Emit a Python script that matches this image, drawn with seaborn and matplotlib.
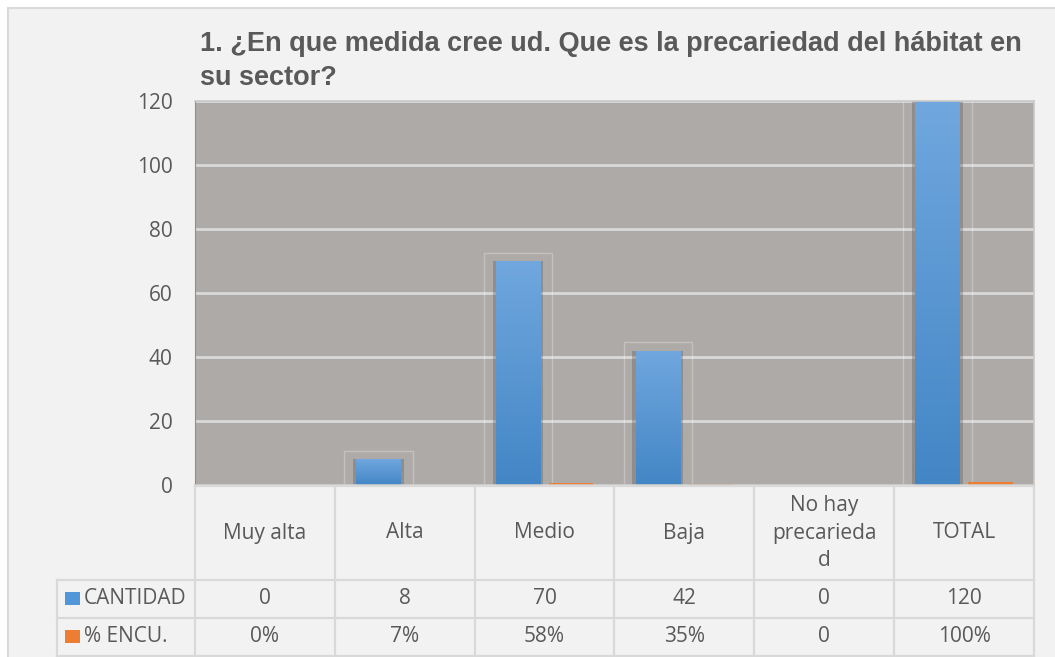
import numpy as np
import pandas as pd
import matplotlib
matplotlib.use("Agg")
import matplotlib.pyplot as plt
import matplotlib.transforms as mtransforms
import seaborn as sns
from matplotlib.patches import Rectangle
from matplotlib.lines import Line2D
from matplotlib.colors import LinearSegmentedColormap

# ---------------- data ----------------
categories = ["Muy alta", "Alta", "Medio", "Baja", "No hay precariedad", "TOTAL"]
cantidad = [0, 8, 70, 42, 0, 120]
pct_encu = [0.0, 0.07, 0.58, 0.35, 0.0, 1.0]
cantidad_labels = ["0", "8", "70", "42", "0", "120"]
pct_labels = ["0%", "7%", "58%", "35%", "0", "100%"]
series_names = ["CANTIDAD", "% ENCU."]
y_ticks = [0, 20, 40, 60, 80, 100, 120]
title = "1. ¿En que medida cree ud. Que es la precariedad del hábitat en\nsu sector?"

df = pd.DataFrame({
    "categoria": categories * 2,
    "valor": cantidad + pct_encu,
    "serie": [series_names[0]] * len(categories) + [series_names[1]] * len(categories),
})

# ---------------- style ----------------
BLUE = "#5096d8"
BLUE_TOP = "#70a7de"
BLUE_BOT = "#4386c6"
ORANGE = "#ed7d31"
TXT = "#595959"
GRID = "#d9d9d9"
FONT = ["Open Sans", "DejaVu Sans"]
plt.rcParams["font.family"] = FONT

W, H = 1055, 657
fig = plt.figure(figsize=(W / 100, H / 100), dpi=100, facecolor="white")


def fy(y):
    return 1 - y / H


def excel_wrap(text, width):
    """Greedy word wrap; words longer than width are split like Excel does."""
    lines, cur = [], ""
    for word in text.split():
        cand = word if not cur else cur + " " + word
        if len(cand) <= width:
            cur = cand
            continue
        if cur:
            lines.append(cur)
        while len(word) > width:
            lines.append(word[:width])
            word = word[width:]
        cur = word
    if cur:
        lines.append(cur)
    return "\n".join(lines)


fig.patches.append(Rectangle((8 / W, -0.1), 1.2, 1.1 - 8 / H, transform=fig.transFigure,
                             facecolor="#f2f2f2", edgecolor="#d9d9d9", lw=1.5, zorder=-10))

ax = fig.add_axes([195 / W, fy(485), (1034 - 195) / W, (485 - 101) / H])
sns.barplot(data=df, x="categoria", y="valor", hue="serie", order=categories,
            hue_order=series_names, palette=[BLUE, ORANGE], width=0.76, gap=0.16,
            saturation=1, legend=False, edgecolor="none", linewidth=0, ax=ax)

ax.set_xlim(-0.5, len(categories) - 0.5)
ax.set_ylim(0, 120)
ax.set_facecolor("#aeaaa8")
ax.set_yticks(y_ticks)
ax.set_xticks([])
ax.set_xlabel("")
ax.set_ylabel("")
ax.yaxis.grid(True, color=GRID, lw=2)
ax.set_axisbelow(True)
ax.tick_params(axis="y", length=0, pad=16, labelsize=15, labelcolor=TXT)
for s in ["top", "right", "bottom"]:
    ax.spines[s].set_color("#c8c8c8")
    ax.spines[s].set_linewidth(1.2)
ax.spines["left"].set_color("#8f8f8f")
ax.spines["left"].set_linewidth(0.8)

# bar effects: shadow, gradient, faint glow outline
blue_cmap = LinearSegmentedColormap.from_list("b", [BLUE_BOT, BLUE_TOP])
blue_rgb = np.array(matplotlib.colors.to_rgb(BLUE))
grad = np.linspace(1, 0, 256).reshape(-1, 1)
for p in list(ax.patches):
    h = p.get_height()
    x0 = p.get_x()
    w = p.get_width()
    is_blue = np.allclose(np.array(p.get_facecolor()[:3]), blue_rgb, atol=0.02)
    if is_blue and h > 0:
        ax.add_patch(Rectangle((x0 - 0.022, 0), w + 0.044, h, facecolor="#5c5857",
                               alpha=0.35, lw=0, zorder=p.get_zorder() - 0.2))
        im = ax.imshow(grad, extent=[x0, x0 + w, 0, h], cmap=blue_cmap, aspect="auto",
                       zorder=p.get_zorder() + 0.1, interpolation="bilinear")
        im.set_clip_path(p)
        ax.add_patch(Rectangle((x0 - 0.086, 0), w + 0.172, h + 2.6, fill=False,
                               edgecolor=(1, 1, 1, 0.28), lw=1, zorder=p.get_zorder() - 0.3))
ax.set_xlim(-0.5, len(categories) - 0.5)
ax.set_ylim(0, 120)

# title
fig.text(200 / W, fy(31), title, ha="left", va="top", fontsize=19.5, fontweight="bold",
         color=TXT, family=["Liberation Sans", "DejaVu Sans"], linespacing=1.4)

# ---------------- data table ----------------
trans = mtransforms.blended_transform_factory(ax.transData, fig.transFigure)
n = len(categories)
y_head_top, y_head_bot, y_r1, y_r2 = 486, 580, 618, 656
lkw = dict(color=GRID, lw=1.6, zorder=5)
for i in range(n + 1):
    fig.add_artist(Line2D([i - 0.5, i - 0.5], [fy(y_head_top), fy(y_r2)], transform=trans, **lkw))
fig.add_artist(Line2D([-0.5, n - 0.5], [fy(y_head_top), fy(y_head_top)], transform=trans, **lkw))
for yy in (y_head_bot, y_r1, y_r2):
    fig.add_artist(Line2D([57 / W, 1034 / W], [fy(yy), fy(yy)], transform=fig.transFigure, **lkw))
fig.add_artist(Line2D([57 / W, 57 / W], [fy(y_head_bot), fy(y_r2)], transform=fig.transFigure, **lkw))

for i, c in enumerate(categories):
    ax.text(i, fy((y_head_top + y_head_bot) / 2), excel_wrap(c, 10), transform=trans,
            ha="center", va="center", fontsize=15, color=TXT, linespacing=1.42)
    ax.text(i, fy((y_head_bot + y_r1) / 2), cantidad_labels[i], transform=trans, ha="center",
            va="center", fontsize=15, color=TXT)
    ax.text(i, fy((y_r1 + y_r2) / 2), pct_labels[i], transform=trans, ha="center",
            va="center", fontsize=15, color=TXT)

for k, (name, col) in enumerate(zip(series_names, [BLUE, ORANGE])):
    yc = (y_head_bot + y_r1) / 2 if k == 0 else (y_r1 + y_r2) / 2
    fig.patches.append(Rectangle((65 / W, fy(yc + 6)), 15 / W, 13 / H, transform=fig.transFigure,
                                 facecolor=col, lw=0, zorder=6))
    fig.text(84 / W, fy(yc), name, ha="left", va="center", fontsize=15, color=TXT)

fig.savefig("out.png", dpi=100, facecolor=fig.get_facecolor())
